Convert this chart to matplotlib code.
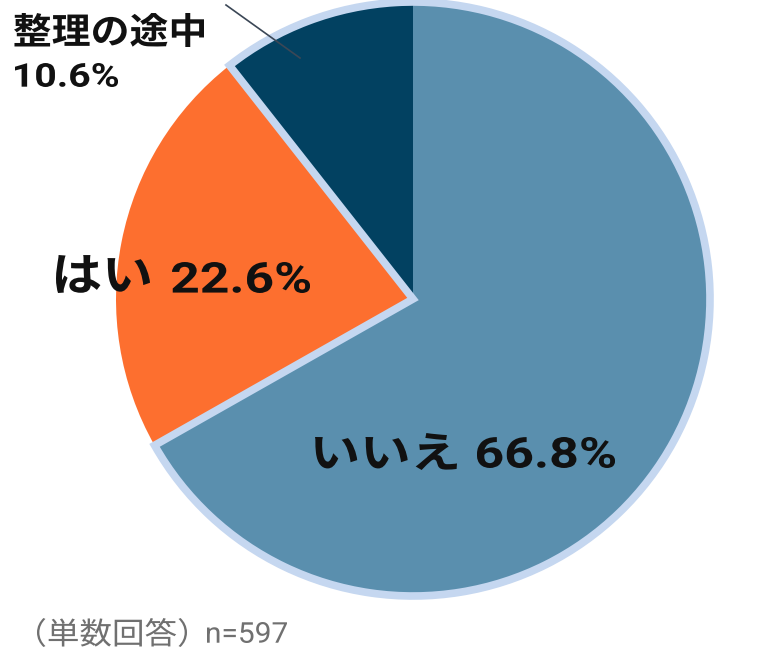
import matplotlib
matplotlib.use("Agg")
import matplotlib.pyplot as plt
from matplotlib.patches import Wedge, PathPatch
from matplotlib.textpath import TextPath
from matplotlib.font_manager import FontProperties
from matplotlib.transforms import Affine2D

labels = ["いいえ", "はい", "整理の途中"]
values = [66.8, 22.6, 10.6]
colors = ["#5a8fae", "#fd6f2f", "#024161"]
edge_color = "#c5d7f0"
note_prefix = "（単数回答）"
note_n = "n=597"

families = ['Roboto', 'Noto Sans CJK JP', 'DejaVu Sans']
plt.rcParams['font.family'] = families

W, H = 780, 655
fig = plt.figure(figsize=(W / 100, H / 100), dpi=100)
ax = fig.add_axes([0, 0, 1, 1])

cx, cy, r = 413, H - 299, 297
wedges, _ = ax.pie(values, colors=colors, startangle=90, counterclock=False,
                   center=(cx, cy), radius=r, frame=True,
                   wedgeprops=dict(linewidth=0))
ax.set_xlim(0, W)
ax.set_ylim(0, H)
ax.set_aspect('equal')
ax.axis('off')

# outline around the いいえ + 整理の途中 union (orange has no outline)
w_no = wedges[0]
w_mid = wedges[2]
theta1 = w_no.theta1
theta2 = w_mid.theta2 + 360 if w_mid.theta2 < theta1 else w_mid.theta2
outline = Wedge((cx, cy), r, theta1, theta2, fill=False,
                edgecolor=edge_color, linewidth=5.5, joinstyle='miter')
ax.add_patch(outline)

# leader line
ax.plot([226, 300], [H - 5, H - 58], color="#3b4756", linewidth=1.2)


def box_text(s, x0, x1, top, bottom, weight='bold', color='#111111'):
    """Draw s as real glyph outlines fitted to an ink box (pixels from top-left)."""
    fp = FontProperties(family=families, weight=weight)
    tp = TextPath((0, 0), s, size=40, prop=fp)
    ext = tp.get_extents()
    sx = (x1 - x0) / ext.width
    sy = (bottom - top) / ext.height
    tr = (Affine2D().translate(-ext.x0, -ext.y0).scale(sx, sy)
          .translate(x0, H - bottom))
    patch = PathPatch(tr.transform_path(tp), facecolor=color, edgecolor='none',
                      linewidth=0)
    ax.add_patch(patch)


box_text(labels[2], 14, 204, 13, 47)
box_text(f"{values[2]}%", 15, 118, 63, 87)
box_text(labels[1], 56, 150, 255, 293)
box_text(f"{values[1]}%", 172, 310, 262, 293)
box_text(labels[0], 315, 457, 433, 470)
box_text(f"{values[0]}%", 477, 615, 437, 468)
box_text(note_prefix, 37, 187, 618, 647, weight='normal', color='#707070')
box_text(note_n, 207, 287, 622, 643, weight='normal', color='#707070')

fig.savefig("out.png", dpi=100)
